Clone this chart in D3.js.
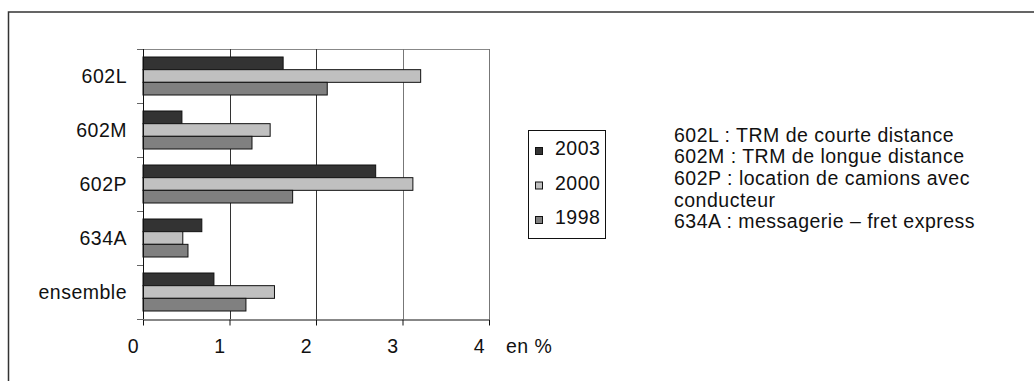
<!DOCTYPE html>
<html>
<head>
<meta charset="utf-8">
<script src="https://cdn.jsdelivr.net/npm/d3@7"></script>
<style>
  html, body { margin: 0; padding: 0; background: #fff; }
  svg text { font-family: "Liberation Sans", Arial, sans-serif; font-size: 19.5px; letter-spacing: 0.5px; fill: #111; }
</style>
</head>
<body>
<div id="chart"></div>
<script>
// categories (top to bottom) and series
const categories = ["602L", "602M", "602P", "634A", "ensemble"];
const years = ["2003", "2000", "1998"];
const values2003 = [1.62, 0.45, 2.69, 0.68, 0.82];
const values2000 = [3.21, 1.47, 3.12, 0.46, 1.52];
const values1998 = [2.13, 1.26, 1.73, 0.52, 1.19];
const xTicks = [0, 1, 2, 3, 4];
const notes = [
    "602L : TRM de courte distance",
    "602M : TRM de longue distance",
    "602P : location de camions avec",
    "conducteur",
    "634A : messagerie \u2013 fret express"
];

const width = 1034, height = 381;
const colors = {"2003": "#333333", "2000": "#c0c0c0", "1998": "#808080"};

const series = {"2003": values2003, "2000": values2000, "1998": values1998};
const rows = [];
categories.forEach((c, i) => {
    years.forEach((yr) => rows.push({cat: c, year: yr, value: series[yr][i]}));
});

const svg = d3.select("#chart").append("svg")
    .attr("width", width)
    .attr("height", height);

// outer frame (runs off the right and bottom edge)
svg.append("rect")
    .attr("x", 8.5).attr("y", 12)
    .attr("width", 1100).attr("height", 400)
    .attr("fill", "none")
    .attr("stroke", "#333")
    .attr("stroke-width", 1.5);

const xScale = d3.scaleLinear().domain([0, 4]).range([143, 489]);
const yScale = d3.scaleBand().domain(categories).range([49, 319]);
const yInner = d3.scaleBand().domain(years).range([8, 46]);

// plot area top border
svg.append("line")
    .attr("x1", xScale(0)).attr("x2", xScale(4))
    .attr("y1", 49.5).attr("y2", 49.5)
    .attr("stroke", "#888");

// vertical gridlines
svg.append("g")
    .selectAll("line")
    .data(xTicks.slice(1))
    .join("line")
    .attr("x1", (d) => Math.round(xScale(d)) + 0.5)
    .attr("x2", (d) => Math.round(xScale(d)) + 0.5)
    .attr("y1", 49).attr("y2", 319)
    .attr("stroke", (d) => d >= 3 ? "#777" : "#333");

// bars
svg.append("g")
    .selectAll("rect")
    .data(rows)
    .join("rect")
    .attr("x", xScale(0))
    .attr("y", (d) => yScale(d.cat) + yInner(d.year))
    .attr("width", (d) => xScale(d.value) - xScale(0))
    .attr("height", yInner.bandwidth())
    .attr("fill", (d) => colors[d.year])
    .attr("stroke", "#111")
    .attr("stroke-width", 1);

// x axis
const xAxis = svg.append("g")
    .attr("transform", "translate(0,319.5)")
    .call(d3.axisBottom(xScale).tickValues(xTicks).tickSize(6).tickSizeOuter(0).tickFormat(d3.format("d")));
xAxis.attr("font-size", null).attr("font-family", null);
xAxis.select(".domain").attr("stroke", "#111");
xAxis.selectAll(".tick line").attr("stroke", "#111");
xAxis.selectAll(".tick text")
    .attr("x", -10)
    .attr("y", 20)
    .attr("dy", "0.71em")
    .style("fill", "#111");

svg.append("text")
    .attr("x", 506).attr("y", 353)
    .text("en %");

// y axis line and category boundary ticks
svg.append("line")
    .attr("x1", 143.5).attr("x2", 143.5)
    .attr("y1", 49).attr("y2", 319)
    .attr("stroke", "#111");
const bounds = categories.map((c) => yScale(c)).concat([yScale.range()[1]]);
svg.append("g")
    .selectAll("line")
    .data(bounds)
    .join("line")
    .attr("x1", 137).attr("x2", 143)
    .attr("y1", (d) => Math.round(d) + 0.5)
    .attr("y2", (d) => Math.round(d) + 0.5)
    .attr("stroke", "#666");

svg.append("g")
    .selectAll("text")
    .data(categories)
    .join("text")
    .attr("x", 127)
    .attr("y", (d) => yScale(d) + yScale.bandwidth() / 2 + 7)
    .attr("text-anchor", "end")
    .text((d) => d);

// legend
const legend = svg.append("g");
legend.append("rect")
    .attr("x", 528.5).attr("y", 130.5)
    .attr("width", 77).attr("height", 108)
    .attr("fill", "none")
    .attr("stroke", "#111");
const legendItems = legend.selectAll("g")
    .data(years)
    .join("g")
    .attr("transform", (d, i) => `translate(0,${155 + i * 34.5})`);
legendItems.append("rect")
    .attr("x", 535.5).attr("y", -7.5)
    .attr("width", 7).attr("height", 7)
    .attr("fill", (d) => colors[d])
    .attr("stroke", "#111");
legendItems.append("text")
    .attr("x", 555)
    .attr("y", 0)
    .text((d) => d);

// notes
svg.append("g")
    .selectAll("text")
    .data(notes)
    .join("text")
    .attr("x", 674)
    .attr("y", (d, i) => 141.7 + i * 21.65)
    .text((d) => d);
</script>
</body>
</html>
